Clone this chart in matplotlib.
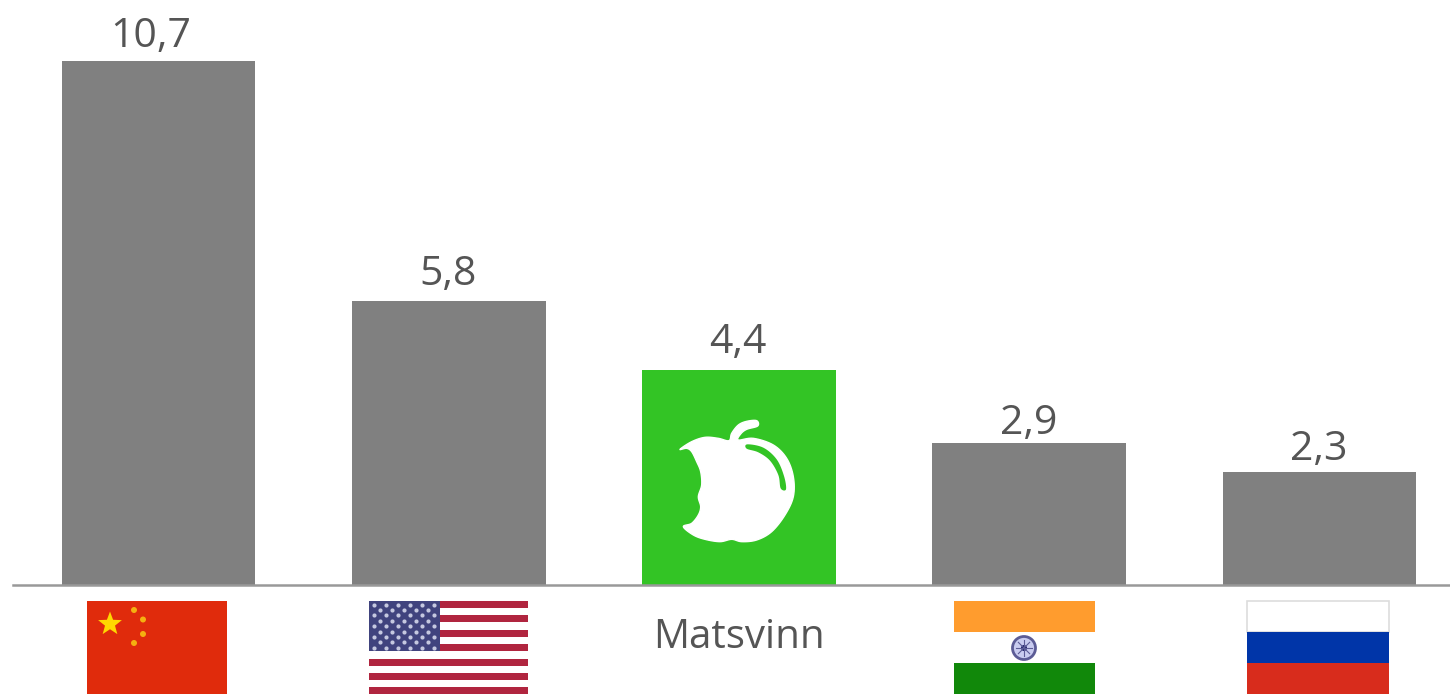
import matplotlib
matplotlib.use("Agg")
import matplotlib.pyplot as plt
from matplotlib.patches import Rectangle, Polygon, Circle
import numpy as np

plt.rcParams['font.family'] = ['Open Sans', 'DejaVu Sans']

categories = ["Kina", "USA", "Matsvinn", "India", "Russland"]
values = [10.7, 5.8, 4.4, 2.9, 2.3]
value_labels = ["10,7", "5,8", "4,4", "2,9", "2,3"]
bar_colors = ["#808080", "#808080", "#33c425", "#808080", "#808080"]

W, H = 1450, 695
BASE_Y = 585          # baseline in pixels from the top
PX_PER_UNIT = 48.97
PX_PER_CAT = 290.25
FIRST_X = 158.5

# the labels are not placed evenly in the original (points)
label_dx = [-5.8, -0.3, -0.5, -0.5, -0.3]
label_dy = [2.6, 4.0, 4.4, -1.0, 1.8]

fig = plt.figure(figsize=(W / 100, H / 100), dpi=100)

# bars
ax = fig.add_axes([0, 0, 1, 1])
ax.set_xlim(-FIRST_X / PX_PER_CAT, (W - FIRST_X) / PX_PER_CAT)
ax.set_ylim(-(H - BASE_Y) / PX_PER_UNIT, BASE_Y / PX_PER_UNIT)
ax.axis("off")
x = np.arange(len(categories))
ax.bar(x, values, width=0.667, color=bar_colors, zorder=2)
for i, v in enumerate(values):
    ax.annotate(value_labels[i], (i, v), xytext=(label_dx[i], label_dy[i]),
                textcoords="offset points", ha="center", va="bottom",
                fontsize=29.5, color="#555555")
ax.plot([13 / W, 1], [(H - BASE_Y) / H] * 2, transform=ax.transAxes,
        color="#999999", lw=1.8, zorder=3, clip_on=False)

# overlay in picture pixels for flags and icon
ov = fig.add_axes([0, 0, 1, 1], facecolor="none")
ov.set_xlim(0, W)
ov.set_ylim(H, 0)
ov.axis("off")


def rect(x0, y0, x1, y1, color, **kw):
    ov.add_patch(Rectangle((x0, y0), x1 - x0, y1 - y0, facecolor=color, edgecolor="none", **kw))


def star(cx, cy, r, color):
    a = np.pi / 2 + np.arange(10) * np.pi / 5
    rr = np.where(np.arange(10) % 2 == 0, r, r * 0.42)
    ov.add_patch(Polygon(np.c_[cx + rr * np.cos(a), cy - rr * np.sin(a)], closed=True,
                         facecolor=color, edgecolor="none"))


def smooth(pts, steps=8):
    # closed Catmull-Rom outline, only to round off the traced icon
    out = []
    n = len(pts)
    for i in range(n):
        p0, p1, p2, p3 = pts[i - 1], pts[i], pts[(i + 1) % n], pts[(i + 2) % n]
        for t in np.linspace(0, 1, steps, endpoint=False):
            out.append(0.5 * (2 * p1 + (p2 - p0) * t + (2 * p0 - 5 * p1 + 4 * p2 - p3) * t ** 2
                              + (3 * p1 - p0 - 3 * p2 + p3) * t ** 3))
    return np.array(out)


# China
rect(87, 601, 227, 694, "#e02b0c")
star(110, 624, 12.5, "#ffd800")
for dx, dy in [(134, 610), (143, 619.5), (143, 634), (134, 643)]:
    ov.add_patch(Circle((dx, dy), 3, facecolor="#f5b010", edgecolor="none"))

# USA
rect(369, 601, 528, 694, "#ffffff")
for y0 in [601, 615, 629.5, 644, 658.5, 673, 687]:
    rect(369, y0, 528, y0 + 7.2, "#b0253f")
rect(369, 601, 440, 651, "#40437e")
for r in range(9):
    n = 6 if r % 2 == 0 else 5
    off = 374 if r % 2 == 0 else 380
    ov.scatter(off + np.arange(n) * 12, np.full(n, 604.5 + r * 5.4), s=9,
               color="#c5c8e0", linewidths=0)

# India
rect(954, 601, 1095, 632, "#ff9c2e")
rect(954, 632, 1095, 663, "#ffffff")
rect(954, 663, 1095, 694, "#11880a")
ov.add_patch(Circle((1024, 648), 11.5, facecolor="#c9ccf0", edgecolor="#5c5c96", lw=2))
ov.add_patch(Circle((1024, 648), 3, facecolor="#20206a", edgecolor="none"))
for a in np.arange(8) * np.pi / 4:
    ov.plot([1024, 1024 + 8 * np.cos(a)], [648, 648 + 8 * np.sin(a)], color="#5c5c96", lw=0.8)

# Russia
rect(1247, 601, 1389, 632, "#ffffff")
ov.add_patch(Rectangle((1247, 601), 142, 31, facecolor="none", edgecolor="#dddddd", lw=1.2))
rect(1247, 632, 1389, 663, "#0035a8")
rect(1247, 663, 1389, 694, "#d82c1c")

# label for the highlighted bar
ov.text(738.5, 638, "Matsvinn", ha="center", va="center", fontsize=29, color="#555555")

# apple icon
apple = np.array([
    (150, 148), (185, 125), (225, 112), (265, 115), (297, 122), (305, 100), (325, 75),
    (350, 64), (380, 62), (383, 78), (350, 88), (332, 102), (325, 120), (370, 115),
    (430, 135), (470, 175), (490, 230), (490, 290), (465, 345), (425, 395), (380, 420),
    (335, 425), (305, 418), (270, 425), (225, 418), (190, 405), (160, 380), (185, 370),
    (205, 345), (212, 320), (205, 290), (215, 255), (212, 215), (200, 185), (185, 155),
    (170, 145),
]) / 3 + (630, 400)
shine = np.array([
    (352, 133), (400, 143), (440, 178), (462, 228), (468, 268), (452, 265), (445, 225),
    (420, 182), (385, 157), (350, 146),
]) / 3 + (630, 400)
ov.add_patch(Polygon(smooth(apple), closed=True, facecolor="white", edgecolor="white", lw=1, joinstyle="round"))
ov.add_patch(Polygon(smooth(shine), closed=True, facecolor="#33c425", edgecolor="none"))

fig.savefig("out.png", dpi=100)
